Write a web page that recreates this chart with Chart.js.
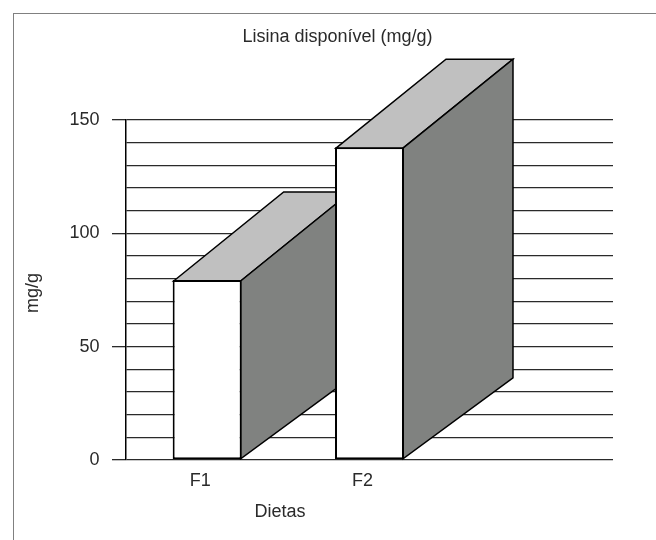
<!DOCTYPE html>
<html lang="pt">
<head>
<meta charset="utf-8">
<script src="https://cdn.jsdelivr.net/npm/chart.js@4"></script>
<style>
html,body{margin:0;padding:0;background:#fff;}
#wrap{position:relative;width:656px;height:540px;overflow:hidden;}
#frame{position:absolute;left:13px;top:13px;right:-5px;bottom:-5px;border-left:1px solid #808080;border-top:1px solid #808080;}
canvas{position:absolute;left:0;top:0;}
</style>
</head>
<body>
<div id="wrap"><div id="frame"></div><canvas id="c" width="656" height="540"></canvas></div>
<script>
const categories = ["F1", "F2", ""];
const lisina = [79.4, 138, null];
const chartTitle = "Lisina disponível (mg/g)";
const xTitle = "Dietas";
const yTitle = "mg/g";
const FONT = "'Liberation Sans', Arial, sans-serif";
const TEXT = "#2a2a2a";

const depth3d = {
  id: "depth3d",
  afterLayout(chart) {
    chart.titleBlock.left += 24;
    chart.titleBlock.right += 24;
  },
  beforeDatasetsDraw(chart) {
    const g = chart.ctx;
    const bars = chart.getDatasetMeta(0).data;
    const dx = 110, dyTop = -89, dyBase = -81;
    bars.forEach((b, i) => {
      if (lisina[i] == null) return;
      const l = b.x - b.width / 2 + 1, r = b.x + b.width / 2 - 1, t = b.y + 1, base = b.base - 0.5;
      g.save();
      g.lineJoin = "miter";
      g.strokeStyle = "#000";
      g.lineWidth = 1.5;
      g.fillStyle = "#c0c0c0";
      g.beginPath();
      g.moveTo(l, t);
      g.lineTo(l + dx, t + dyTop);
      g.lineTo(r + dx, t + dyTop);
      g.lineTo(r, t);
      g.closePath();
      g.fill();
      g.stroke();
      g.fillStyle = "#808280";
      g.beginPath();
      g.moveTo(r, t);
      g.lineTo(r + dx, t + dyTop);
      g.lineTo(r + dx, base + dyBase);
      g.lineTo(r, base);
      g.closePath();
      g.fill();
      g.stroke();
      g.restore();
    });
  },
  afterDraw(chart) {
    const g = chart.ctx, a = chart.chartArea;
    g.save();
    g.fillStyle = TEXT;
    g.font = "18px " + FONT;
    g.textAlign = "center";
    g.textBaseline = "middle";
    g.fillText(xTitle, a.left + 154, a.bottom + 52);
    g.translate(a.left - 88, (a.top + a.bottom) / 2 + 3);
    g.rotate(-Math.PI / 2);
    g.textBaseline = "alphabetic";
    g.fillText(yTitle, 0, 0);
    g.restore();
  }
};

new Chart(document.getElementById("c"), {
  type: "bar",
  data: {
    labels: categories,
    datasets: [{
      label: chartTitle,
      data: lisina,
      backgroundColor: "#ffffff",
      borderColor: "#000000",
      borderWidth: 2,
      borderSkipped: false,
      barPercentage: 0.425,
      categoryPercentage: 1
    }]
  },
  plugins: [depth3d],
  options: {
    responsive: false,
    animation: false,
    layout: { padding: { left: 14, right: 43, top: 0, bottom: 0 } },
    plugins: {
      legend: { display: false },
      tooltip: { enabled: false },
      title: {
        display: true,
        text: chartTitle,
        color: TEXT,
        font: { family: FONT, size: 18, weight: "normal", lineHeight: 1.2 },
        padding: { top: 26.5, bottom: 71.9 }
      }
    },
    scales: {
      x: {
        afterFit(s) { s.height = 80; },
        grid: { display: false },
        border: { display: false },
        ticks: { color: TEXT, font: { family: FONT, size: 18 }, padding: 2.5, labelOffset: -7, maxRotation: 0 }
      },
      y: {
        min: 0,
        max: 150,
        afterFit(s) { s.width = 112; },
        border: { display: true, color: "#000", width: 1.5 },
        grid: {
          color: "#2a2a2a",
          lineWidth: 1.3,
          tickLength: 14,
          tickColor: c => (c.tick.value % 50 === 0 ? "#2a2a2a" : "rgba(0,0,0,0)")
        },
        ticks: {
          stepSize: 10,
          autoSkip: false,
          color: TEXT,
          font: { family: FONT, size: 18 },
          padding: 12.5,
          callback: v => (v % 50 === 0 ? String(v) : "")
        }
      }
    }
  }
});
</script>
</body>
</html>
